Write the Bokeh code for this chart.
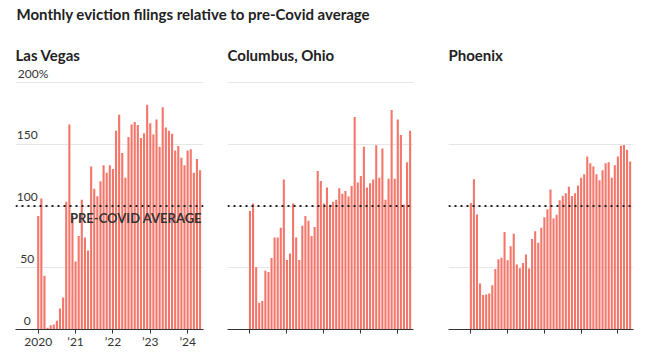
from bokeh.plotting import figure
from bokeh.layouts import column, row
from bokeh.models import Span
from bokeh.core.properties import value
from bokeh.embed import file_html
from bokeh.resources import INLINE

# ---- data -------------------------------------------------------------
months = list(range(53))  # Jan 2020 .. May 2024
las_vegas = [92, 106, 43.5, 1.5, 3.5, 4, 7, 17, 26, 103.5, 166, 92,
             55, 75.7, 105, 74.6, 64, 132, 114, 108, 120, 133, 127, 133,
             130, 161, 174, 143, 123, 156, 166, 168, 165.7, 155, 159, 182,
             167, 158, 170, 148, 180, 163.5, 161, 158.6, 145, 148.6, 139, 133,
             145, 146, 127, 138, 129]
columbus = [96, 102, 50.5, 21.6, 23, 47.6, 46.5, 58, 74.6, 74.6, 82.4, 121.4,
            56.2, 61.6, 102, 74.6, 56.2, 84, 92, 88, 75.7, 83, 128.4, 120.3,
            102, 115, 101, 103.5, 105, 114.3, 110, 112.2, 107.8, 116.2, 172, 119,
            124.3, 148, 115, 118.4, 121.4, 149.2, 123, 146.5, 105, 122, 177.8, 122,
            170, 157.6, 101, 135.4, 161]
phoenix = [102.5, 121.6, 93.2, 37.2, 27.9, 28.4, 29.2, 35.8, 48.9, 56.8, 58.2, 79,
           56, 67.5, 77.6, 52.7, 49.7, 53.8, 60.7, 49.5, 73.2, 79.5, 70.2, 82.5,
           91, 97.3, 113.4, 89.9, 92.9, 104.6, 108.2, 110.4, 115.6, 108.2, 110.4, 116.7,
           123, 125.7, 140.2, 134.7, 132, 125.7, 120.8, 129, 134.7, 135.5, 123, 133,
           140.2, 148.9, 149.5, 145.6, 136]
year_ticks = [0, 12, 24, 36, 48]
year_labels = ["2020", "\u201921", "\u201922", "\u201923", "\u201924"]
y_ticks = [0, 50, 100, 150, 200]
y_tick_labels = ["0", "50", "100", "150", "200%"]
phoenix_y_ticks = [0, 50, 100, 150]
pre_covid = 100
pre_covid_label = "PRE-COVID AVERAGE"
main_title = "Monthly eviction filings relative to pre-Covid average"

# ---- style ------------------------------------------------------------
FONT = "Lato"
BAR = "#f3766a"
INK = "#222222"
X0, X1 = -7.3, 53.1
Y0, Y1 = 0, 213
H = 310


def panel(name, vals, width, left, right, labels, yticks):
    p = figure(width=width, height=H, x_range=(X0, X1), y_range=(Y0, Y1),
               output_backend="svg", toolbar_location=None, title=name,
               min_border_left=left, min_border_right=right,
               min_border_top=0, min_border_bottom=20)
    p.title.text_font = FONT
    p.title.text_font_size = "15px"
    p.title.text_font_style = "bold"
    p.title.text_color = INK
    p.title.standoff = 5
    p.outline_line_color = None
    p.yaxis.visible = False
    p.xgrid.visible = False
    p.ygrid.ticker = yticks
    p.ygrid.grid_line_color = "#e6e6e6"
    p.ygrid.grid_line_width = 1

    ax = p.xaxis[0]
    ax.ticker = year_ticks
    if labels:
        ax.major_label_overrides = dict(zip(year_ticks, year_labels))
    else:
        ax.major_label_overrides = {t: "" for t in year_ticks}
    ax.axis_line_color = "#333333"
    ax.major_tick_line_color = "#333333"
    ax.major_tick_out = 4
    ax.major_tick_in = 0
    ax.minor_tick_out = 0
    ax.minor_tick_in = 0
    ax.major_label_standoff = 0
    ax.major_label_text_font = FONT
    ax.major_label_text_font_size = "12px"
    ax.major_label_text_color = "#333333"

    p.vbar(x=months, top=vals, width=0.68, color=BAR, line_color=None)
    p.add_layout(Span(location=pre_covid, dimension="width", line_color=INK,
                      line_width=2, line_dash="2 4"))
    return p


lv = panel("Las Vegas", las_vegas, 215, 15, 12, True, y_ticks)
co = panel("Columbus, Ohio", columbus, 220, 12, 22, False, y_ticks)
ph = panel("Phoenix", phoenix, 218, 13, 20, False, phoenix_y_ticks)

# y labels (Las Vegas only)
lv.text(x=[X0] * 4, y=y_ticks[:4], text=y_tick_labels[:4],
        x_offset=11.7, y_offset=-9, text_align="center", text_baseline="middle",
        text_font=value(FONT), text_font_size="12px", text_color="#333333")
lv.text(x=[X0], y=y_ticks[4:], text=y_tick_labels[4:],
        x_offset=2.3, y_offset=-9, text_align="left", text_baseline="middle",
        text_font=value(FONT), text_font_size="12px", text_color="#333333")
lv.text(x=[X1], y=[pre_covid], text=[pre_covid_label], x_offset=-1.5, y_offset=11.5,
        text_align="right", text_baseline="middle", text_font=value(FONT),
        text_font_size="13px", text_font_style="bold", text_color="#333333")

head = figure(width=653, height=41, output_backend="svg", toolbar_location=None,
              title=main_title, x_axis_location=None, y_axis_location=None,
              min_border=0, min_border_top=4)
head.outline_line_color = None
head.grid.visible = False
head.title.text_font = FONT
head.title.text_font_size = "15px"
head.title.text_font_style = "bold"
head.title.text_color = INK
head.title.offset = 16
head.title.standoff = 4

layout = column(head, row(lv, co, ph))
open("out.html", "w").write(file_html(layout, INLINE))
